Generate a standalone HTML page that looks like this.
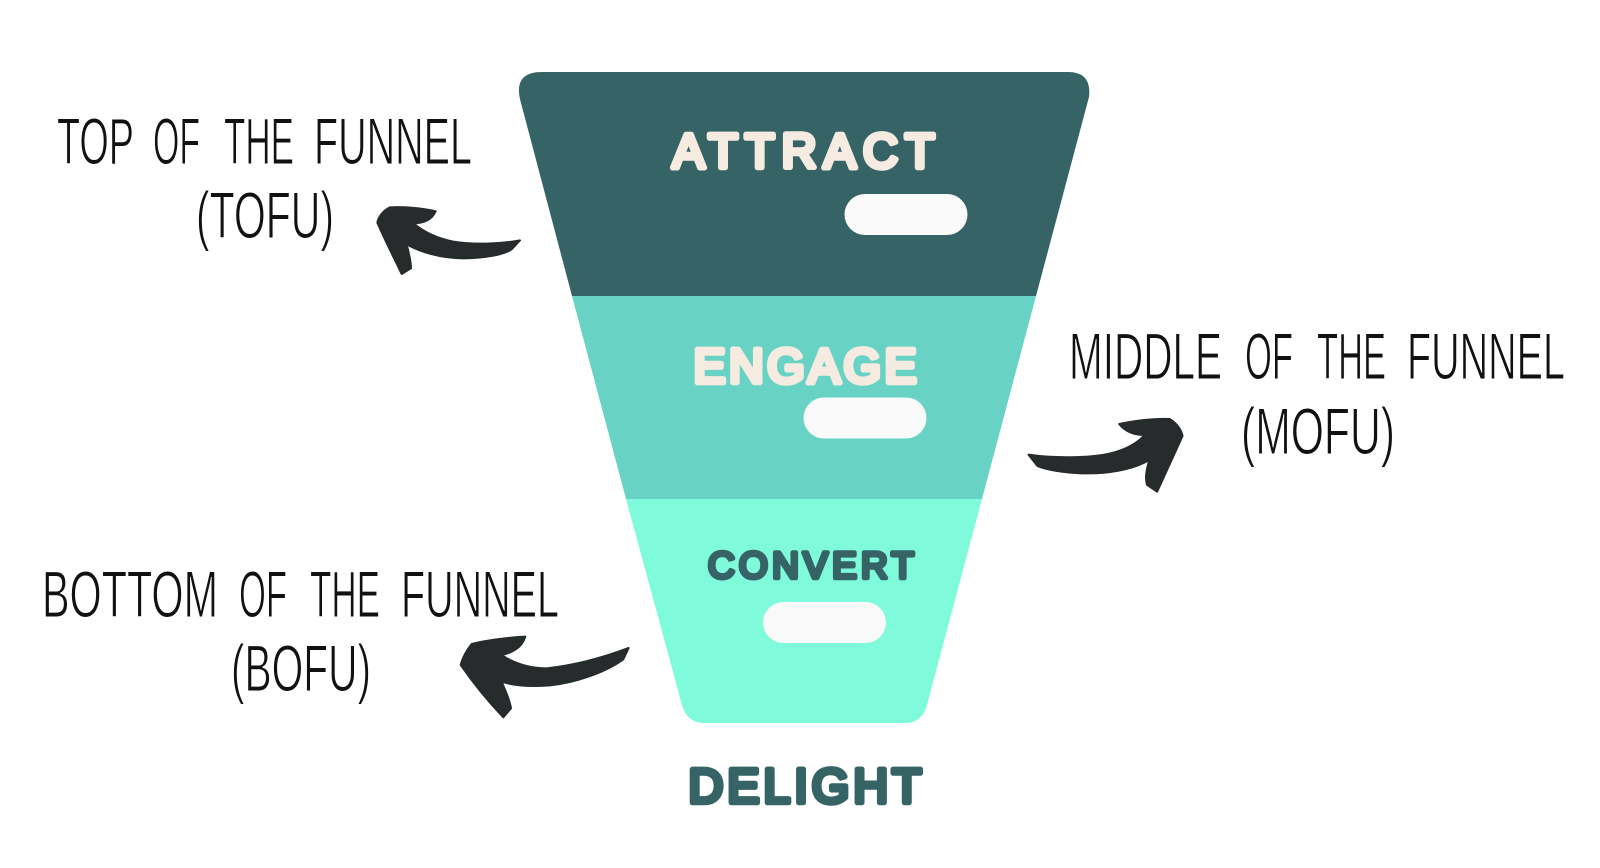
<!DOCTYPE html>
<html>
<head>
<meta charset="utf-8">
<style>
html,body{margin:0;padding:0;background:#fff;width:1600px;height:868px;overflow:hidden}
svg{display:block}
.h{font-family:"Liberation Sans Narrow","Liberation Sans",sans-serif;font-size:66px;fill:#111;stroke:#fff;stroke-width:1.1px}
.b{font-family:"Liberation Sans",sans-serif;font-weight:400;stroke-linejoin:round;stroke-linecap:round}
</style>
</head>
<body>
<svg width="1600" height="868" viewBox="0 0 1600 868" xmlns="http://www.w3.org/2000/svg">
<rect width="1600" height="868" fill="#fff"/>
<path d="M542 72H1068Q1092 72 1089 97L1036 296H572L521 103Q512 72 542 72Z" fill="#366366"/>
<path d="M572 296H1036L982 499H626Z" fill="#68d3c4"/>
<path d="M626 499H982L927 705Q922 723 905 723H704Q687 723 682 705Z" fill="#7ffbdc"/>
<rect x="844.500" y="194" width="123" height="41" rx="20.500" fill="#fafafa"/>
<rect x="803.500" y="397.500" width="123" height="41" rx="20.500" fill="#fafafa"/>
<rect x="763" y="602" width="123" height="41" rx="20.500" fill="#f9f9f9"/>

<text class="b" x="672.500" y="167.500" font-size="48" stroke-width="5.5" textLength="262" lengthAdjust="spacing" fill="#f6ebe0" stroke="#f6ebe0">ATTRACT</text>
<text class="b" x="693.500" y="382.500" font-size="48" stroke-width="5.5" textLength="223" lengthAdjust="spacing" fill="#f6ebe0" stroke="#f6ebe0">ENGAGE</text>
<text class="b" x="708" y="578" font-size="37" stroke-width="4.5" textLength="206" lengthAdjust="spacing" fill="#366366" stroke="#366366">CONVERT</text>
<text class="b" x="688.500" y="802.500" font-size="48" stroke-width="5.5" textLength="233" lengthAdjust="spacing" fill="#366366" stroke="#366366">DELIGHT</text>

<g class="h">
<text x="57" y="164" textLength="77" lengthAdjust="spacingAndGlyphs">TOP</text>
<text x="153" y="164" textLength="47" lengthAdjust="spacingAndGlyphs">OF</text>
<text x="224" y="164" textLength="70" lengthAdjust="spacingAndGlyphs">THE</text>
<text x="314" y="164" textLength="158" lengthAdjust="spacingAndGlyphs">FUNNEL</text>
<text x="196" y="238" textLength="138" lengthAdjust="spacingAndGlyphs">(TOFU)</text>

<text x="1069" y="379" textLength="153" lengthAdjust="spacingAndGlyphs">MIDDLE</text>
<text x="1245" y="379" textLength="48" lengthAdjust="spacingAndGlyphs">OF</text>
<text x="1317" y="379" textLength="69" lengthAdjust="spacingAndGlyphs">THE</text>
<text x="1407" y="379" textLength="158" lengthAdjust="spacingAndGlyphs">FUNNEL</text>
<text x="1241" y="454" textLength="154" lengthAdjust="spacingAndGlyphs">(MOFU)</text>

<text x="42" y="617" textLength="176" lengthAdjust="spacingAndGlyphs">BOTTOM</text>
<text x="239" y="617" textLength="48" lengthAdjust="spacingAndGlyphs">OF</text>
<text x="310" y="617" textLength="70" lengthAdjust="spacingAndGlyphs">THE</text>
<text x="401" y="617" textLength="158" lengthAdjust="spacingAndGlyphs">FUNNEL</text>
<text x="231" y="691" textLength="140" lengthAdjust="spacingAndGlyphs">(BOFU)</text>
</g>

<g fill="#272b2c" stroke="#272b2c" stroke-width="6" stroke-linejoin="round">
<path transform="translate(340 60) scale(.3333)" d="M540 541C480 552 400 555 340 545C290 535 250 515 220 490C250 490 275 480 287 454C250 444 190 440 150 442C130 452 115 470 112 488C130 530 160 590 185 642L213 625C213 600 205 575 200 553C240 575 300 595 370 595C430 595 490 585 515 568Z"/>
<path transform="translate(1000 310) scale(.3571 .3333)" d="M80 434C150 445 250 445 310 430C350 420 385 400 405 375C385 375 355 370 334 342C380 332 430 325 475 327C495 340 508 360 511 378L440 545L412 525C405 500 412 475 418 450C370 480 300 492 230 490C180 488 130 480 105 468Z"/>
<path transform="translate(430 600) scale(.3333)" d="M596 144C540 165 450 195 350 205C300 205 250 190 215 165C245 158 275 145 286 110C240 112 170 120 125 132C110 150 97 175 92 195C130 250 180 310 220 352L243 325C240 300 225 270 215 245C260 260 310 260 360 256C440 248 530 215 580 178Z"/>
</g>
</svg>
</body>
</html>
